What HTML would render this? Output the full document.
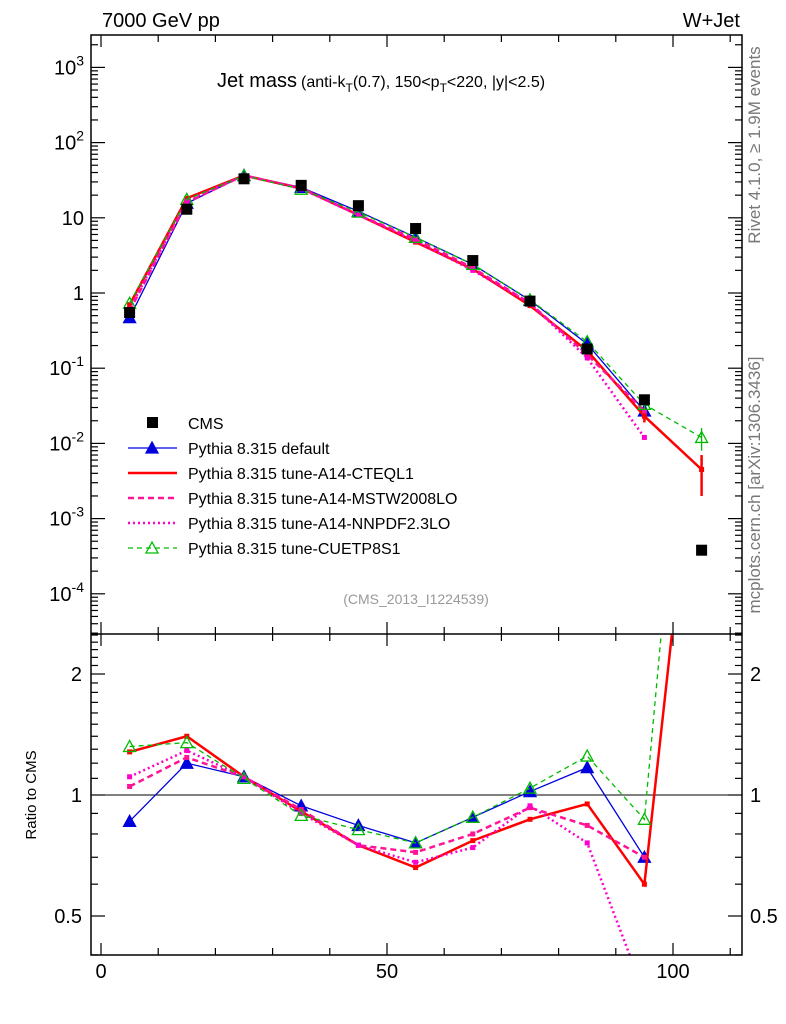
<!DOCTYPE html>
<html><head><meta charset="utf-8"><style>
html,body{margin:0;padding:0;background:#fff;}
svg{display:block;font-family:"Liberation Sans",Arial,sans-serif;}
</style></head><body>
<svg id="c" width="786" height="1024" viewBox="0 0 786 1024" xmlns="http://www.w3.org/2000/svg">
<defs>
<clipPath id="cm"><rect x="91" y="35" width="651" height="599"/></clipPath>
<clipPath id="cr"><rect x="91" y="634" width="651" height="321"/></clipPath>
</defs>
<text x="102" y="27" font-size="20">7000 GeV pp</text>
<text x="740" y="27" font-size="20" text-anchor="end">W+Jet</text>
<text x="217" y="87" font-size="20">Jet mass<tspan font-size="16" dx="4">(anti-k</tspan><tspan font-size="12" dy="5">T</tspan><tspan font-size="16" dy="-5">(0.7), 150&lt;p</tspan><tspan font-size="12" dy="5">T</tspan><tspan font-size="16" dy="-5">&lt;220, |y|&lt;2.5)</tspan></text>
<text x="416" y="604" font-size="14" fill="#999" text-anchor="middle">(CMS_2013_I1224539)</text>
<text transform="translate(760,145) rotate(-90)" font-size="17" fill="#777" text-anchor="middle">Rivet 4.1.0, ≥ 1.9M events</text>
<text transform="translate(760,485) rotate(-90)" font-size="17" fill="#777" text-anchor="middle">mcplots.cern.ch [arXiv:1306.3436]</text>
<text transform="translate(36,795) rotate(-90)" font-size="15" text-anchor="middle">Ratio to CMS</text>
<g id="axes"></g>
<g id="main" clip-path="url(#cm)"></g>
<g id="ratio" clip-path="url(#cr)"></g>
<g id="legend"></g>
<rect x="91" y="35" width="651" height="920" fill="none" stroke="#000" stroke-width="1.5"/>
<line x1="91" y1="634" x2="742" y2="634" stroke="#000" stroke-width="1.5"/>
</svg>
<script>
const bins = [5,15,25,35,45,55,65,75,85,95,105];
const cmsVals = [0.55,13,33,27,14.5,7.2,2.7,0.78,0.18,0.038,0.00038];
const defVals = [0.47,15.6,36.6,25.4,12.2,5.5,2.4,0.80,0.21,0.027,null];
const a14Vals = [0.70,18.2,36.6,24.6,10.9,4.75,2.08,0.68,0.171,0.023,0.0045];
const mstwVals = [0.58,16.1,36.6,24.8,10.9,5.2,2.16,0.73,0.151,0.027,null];
const nnpdfVals = [0.61,16.8,36.6,24.3,10.9,4.9,2.0,0.73,0.137,0.012,null];
const cuetVals = [0.73,17.6,36.3,24.0,11.9,5.5,2.4,0.81,0.225,0.033,0.012];
const defRatio = [0.86,1.20,1.11,0.94,0.84,0.76,0.88,1.02,1.17,0.70,null];
const a14Ratio = [1.28,1.40,1.11,0.91,0.75,0.66,0.77,0.87,0.95,0.60,11.8];
const mstwRatio = [1.05,1.24,1.11,0.92,0.75,0.72,0.80,0.93,0.84,0.70,null];
const nnpdfRatio = [1.11,1.29,1.11,0.90,0.75,0.68,0.74,0.94,0.76,0.32,null];
const cuetRatio = [1.32,1.35,1.10,0.89,0.82,0.76,0.88,1.04,1.25,0.87,32];
const a14Err = [0,0,0,0,0,0,0,0,0,0.004,0.0025];
const cuetErr = [0,0,0,0,0,0,0,0,0,0.004,0.004];
const xTicks = [0,50,100];
const mainTicks = [-4,-3,-2,-1,0,1,2,3];
const mainTickLabels = ["10^-4","10^-3","10^-2","10^-1","1","10","10^2","10^3"];
const ratioTicks = [0.5,1,2];
const ratioTickLabels = ["0.5","1","2"];

const NS="http://www.w3.org/2000/svg";
const X0=91,X1=742,MT=35,MB=634,RT=634,RB=955;
const xs = v => 101 + v*5.72;
const ym = v => 293 - Math.log10(v)*75.2;
const yr = v => 795 - Math.log2(v)*121;
function mk(tag, attrs, parent){const e=document.createElementNS(NS,tag);for(const k in attrs)e.setAttribute(k,attrs[k]);parent.appendChild(e);return e;}
const ax=document.getElementById('axes'), gm=document.getElementById('main'), gr=document.getElementById('ratio'), lg=document.getElementById('legend');

for(let v=0;v<=110;v+=10){
  const x=xs(v), big=(v%50===0);
  const L=big?12:7;
  [[RB,-1],[RT,1],[MB,-1],[MT,1]].forEach(([y,d])=>{
    const t=mk('line',{x1:x,x2:x,y1:y,y2:y+d*L,stroke:'#000','stroke-width':1.2},ax);
    
    
  });
}
xTicks.forEach(v=>{
  const t=mk('text',{x:xs(v),y:978,'font-size':20,'text-anchor':'middle'},ax);t.textContent=v;
  
  
});
for(let d=-5;d<=3;d++){
  for(let m=1;m<10;m++){
    const y=ym(m*Math.pow(10,d)); if(y<MT||y>MB) continue;
    const L=m===1?14:7;
    [[X0,1],[X1,-1]].forEach(([x,s])=>{
      const t=mk('line',{x1:x,x2:x+s*L,y1:y,y2:y,stroke:'#000','stroke-width':1.2},ax);
      
      
    });
  }
}
mainTicks.forEach((d,i)=>{
  const lab=mainTickLabels[i];
  const t=mk('text',{x:84,y:ym(Math.pow(10,d))+7,'font-size':20,'text-anchor':'end'},ax);
  if(lab.indexOf('^')>=0){const p=lab.split('^');t.textContent=p[0];const s=mk('tspan',{'font-size':14,dy:-9},t);s.textContent=p[1];}
  else t.textContent=lab;
  
  
});
for(let v=0.4;v<=2.55;v+=0.1){
  const r=Math.round(v*10)/10, y=yr(r); if(y<RT||y>RB) continue;
  const big=(r===0.5||r===1||r===2);
  [[X0,1],[X1,-1]].forEach(([x,s])=>{
    const t=mk('line',{x1:x,x2:x+s*(big?14:7),y1:y,y2:y,stroke:'#000','stroke-width':1.2},ax);
    
    
  });
}
ratioTicks.forEach((v,i)=>{
  [[82,'end'],[750,'start']].forEach(([x,a])=>{
    const t=mk('text',{x:x,y:yr(v)+7,'font-size':20,'text-anchor':a},ax);t.textContent=ratioTickLabels[i];
    
    
  });
});
const one=mk('line',{x1:X0,x2:X1,y1:yr(1),y2:yr(1),stroke:'#000','stroke-width':1},gr);



const series=[
 {name:'default',label:'Pythia 8.315 default',c:'#0000dd',w:1.3,dash:'',mark:'tri',main:defVals,ratio:defRatio},
 {name:'a14-cteql1',label:'Pythia 8.315 tune-A14-CTEQL1',c:'#ff0000',w:2.5,dash:'',mark:'none',main:a14Vals,ratio:a14Ratio,err:a14Err},
 {name:'a14-mstw2008lo',label:'Pythia 8.315 tune-A14-MSTW2008LO',c:'#ff1493',w:2.5,dash:'6,4',mark:'none',main:mstwVals,ratio:mstwRatio},
 {name:'a14-nnpdf23lo',label:'Pythia 8.315 tune-A14-NNPDF2.3LO',c:'#ff00cc',w:2.5,dash:'2,3',mark:'none',main:nnpdfVals,ratio:nnpdfRatio},
 {name:'cuetp8s1',label:'Pythia 8.315 tune-CUETP8S1',c:'#00bb00',w:1.3,dash:'5,4',mark:'otri',main:cuetVals,ratio:cuetRatio,err:cuetErr}
];
function tri(g,x,y,c,open,nm){
  const p=mk('polygon',{points:`${x},${y-6} ${x-6},${y+5} ${x+6},${y+5}`,fill:open?'none':c,stroke:c,'stroke-width':1.3},g);
  
  
}
function drawSeries(s,g,vals,yf,tag){
  let pts=[];
  bins.forEach((b,i)=>{if(vals[i]!=null)pts.push(`${xs(b)},${yf(vals[i])}`);});
  const pl=mk('polyline',{points:pts.join(' '),fill:'none',stroke:s.c,'stroke-width':s.w,'stroke-dasharray':s.dash},g);
  
  
  bins.forEach((b,i)=>{
    if(vals[i]==null) return;
    const x=xs(b),y=yf(vals[i]);
    if(s.mark==='tri'||s.mark==='otri') tri(g,x,y,s.c,s.mark==='otri',`${tag}-point-${s.name}`);
    else{const r=mk('rect',{x:x-2.5,y:y-2.5,width:5,height:5,fill:s.c},g);
      
      }
  });
}
series.forEach(s=>{
  drawSeries(s,gm,s.main,ym,'main');
  drawSeries(s,gr,s.ratio,yr,'ratio');
  if(s.err){bins.forEach((b,i)=>{
    if(!s.err[i]||s.main[i]==null) return;
    const v=s.main[i],e=Math.min(s.err[i],v*0.6);
    const l=mk('line',{x1:xs(b),x2:xs(b),y1:ym(v+e),y2:ym(v-e),stroke:s.c,'stroke-width':s.w},gm);
    
    
  });}
});
bins.forEach((b,i)=>{
  const r=mk('rect',{x:xs(b)-5.5,y:ym(cmsVals[i])-5.5,width:11,height:11,fill:'#000'},gm);
  
  
});
const ly0=423;
const cm=mk('rect',{x:147,y:ly0-6,width:11,height:11,fill:'#000'},lg);


const ct=mk('text',{x:188,y:ly0+6,'font-size':16},lg);ct.textContent='CMS';


series.forEach((s,i)=>{
  const y=ly0+25*(i+1);
  const l=mk('line',{x1:128,x2:177,y1:y,y2:y,stroke:s.c,'stroke-width':s.w,'stroke-dasharray':s.dash},lg);
  
  
  if(s.mark!=='none') tri(lg,152,y,s.c,s.mark==='otri',`legend-marker-${s.name}`);
  const t=mk('text',{x:188,y:y+6,'font-size':16},lg);t.textContent=s.label;
  
  
});
</script>
</body></html>
